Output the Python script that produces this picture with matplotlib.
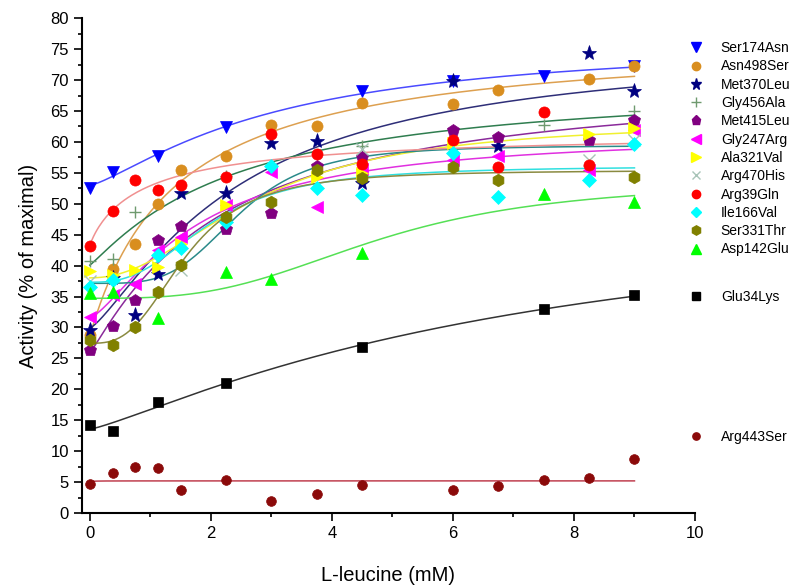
import numpy as np
import matplotlib.pyplot as plt
from matplotlib.lines import Line2D

plt.rcParams['font.family'] = ['Liberation Sans', 'DejaVu Sans']

# L-leucine concentrations (mM) and activity (% of maximal)
ser174asn_x = [0, 0.375, 1.125, 2.25, 4.5, 6, 7.5, 9]
ser174asn_y = [52.6, 55.1, 57.7, 62.4, 68.2, 69.9, 70.6, 72.3]

asn498ser_x = [0, 0.375, 0.75, 1.125, 1.5, 2.25, 3, 3.75, 4.5, 6, 6.75, 8.25, 9]
asn498ser_y = [28.8, 39.4, 43.5, 49.9, 55.5, 57.7, 62.8, 62.5, 66.3, 66.2, 68.4, 70.1, 72.2]

met370leu_x = [0, 0.375, 0.75, 1.125, 1.5, 2.25, 3, 3.75, 4.5, 6, 6.75, 8.25, 9]
met370leu_y = [29.6, 38.0, 32.0, 38.6, 51.7, 51.7, 59.8, 60.1, 53.3, 69.8, 59.3, 74.3, 68.2]

gly456ala_x = [0, 0.375, 0.75, 2.25, 4.5, 7.5, 9]
gly456ala_y = [40.7, 41.0, 48.6, 54.5, 59.3, 62.8, 65.0]

met415leu_x = [0, 0.375, 0.75, 1.125, 1.5, 2.25, 3, 3.75, 4.5, 6, 6.75, 8.25, 9]
met415leu_y = [26.3, 30.2, 34.4, 44.1, 46.4, 46.0, 48.5, 56.1, 57.5, 62.0, 60.8, 60.3, 63.6]

gly247arg_x = [0, 0.375, 0.75, 1.125, 1.5, 2.25, 3, 3.75, 4.5, 6, 6.75, 8.25, 9]
gly247arg_y = [31.7, 35.2, 37.0, 42.6, 44.6, 49.8, 55.1, 49.4, 55.7, 57.1, 57.8, 55.5, 62.0]

ala321val_x = [0, 0.375, 0.75, 1.125, 1.5, 2.25, 3.75, 4.5, 6, 8.25, 9]
ala321val_y = [39.1, 38.5, 39.3, 39.8, 43.5, 49.8, 54.3, 55.0, 59.8, 61.2, 62.3]

arg470his_x = [0, 1.5, 4.5, 8.25, 9]
arg470his_y = [37.5, 39.3, 58.9, 57.1, 60.3]

arg39gln_x = [0, 0.375, 0.75, 1.125, 1.5, 2.25, 3, 3.75, 4.5, 6, 6.75, 7.5, 8.25]
arg39gln_y = [43.1, 48.8, 53.8, 52.2, 53.0, 54.4, 61.2, 58.0, 56.5, 60.3, 56.0, 64.9, 56.2]

ile166val_x = [0, 0.375, 1.125, 1.5, 2.25, 3, 3.75, 4.5, 6, 6.75, 8.25, 9]
ile166val_y = [36.6, 37.6, 41.7, 42.8, 47.0, 56.1, 52.6, 51.4, 58.2, 51.1, 53.8, 59.6]

ser331thr_x = [0, 0.375, 0.75, 1.125, 1.5, 2.25, 3, 3.75, 4.5, 6, 6.75, 9]
ser331thr_y = [28.0, 27.1, 30.1, 35.8, 40.1, 47.9, 50.3, 55.4, 54.2, 56.0, 53.9, 54.4]

asp142glu_x = [0, 0.375, 1.125, 2.25, 3, 4.5, 7.5, 9]
asp142glu_y = [35.5, 35.8, 31.5, 39.0, 37.9, 42.1, 51.6, 50.3]

glu34lys_x = [0, 0.375, 1.125, 2.25, 4.5, 7.5, 9]
glu34lys_y = [14.2, 13.3, 18.0, 21.1, 26.8, 33.0, 35.2]

arg443ser_x = [0, 0.375, 0.75, 1.125, 1.5, 2.25, 3, 3.75, 4.5, 6, 6.75, 7.5, 8.25, 9]
arg443ser_y = [4.7, 6.4, 7.4, 7.3, 3.8, 5.3, 1.9, 3.0, 4.5, 3.8, 4.4, 5.4, 5.7, 8.7]


def hill_fit(x, y, kmax=60.0, ns=None):
    # least squares fit of y = a + b * x^n / (k^n + x^n), grid over k and n
    x = np.asarray(x, float)
    y = np.asarray(y, float)
    if ns is None:
        ns = np.linspace(0.6, 4, 35)
    best = None
    for k in np.logspace(-2, np.log10(kmax), 80):
        for n in ns:
            h = x**n / (k**n + x**n)
            A = np.column_stack([np.ones_like(x), h])
            coef, *_ = np.linalg.lstsq(A, y, rcond=None)
            err = np.sum((A @ coef - y) ** 2)
            if best is None or err < best[0]:
                best = (err, coef, k, n)
    _, (a, b), k, n = best
    xs = np.linspace(0, 9, 300)
    return xs, a + b * xs**n / (k**n + xs**n)


series = [
    ("Ser174Asn", ser174asn_x, ser174asn_y, "v", "#0000ff", "#4a4aff", 9),
    ("Asn498Ser", asn498ser_x, asn498ser_y, "o", "#d98e1f", "#dda050", 8),
    ("Met370Leu", met370leu_x, met370leu_y, "*", "#000080", "#2e2e78", 11),
    ("Gly456Ala", gly456ala_x, gly456ala_y, "+", "#6f9a6f", "#2f7d4f", 9),
    ("Met415Leu", met415leu_x, met415leu_y, "p", "#800080", "#8a2a9a", 9),
    ("Gly247Arg", gly247arg_x, gly247arg_y, "<", "#ff00ff", "#e030e0", 9),
    ("Ala321Val", ala321val_x, ala321val_y, ">", "#ffff00", "#f0f030", 9),
    ("Arg470His", arg470his_x, arg470his_y, "x", "#a8c4b8", "#2a8a8a", 8),
    ("Arg39Gln", arg39gln_x, arg39gln_y, "o", "#ff0000", "#f09090", 8),
    ("Ile166Val", ile166val_x, ile166val_y, "D", "#00ffff", "#30e0e0", 7),
    ("Ser331Thr", ser331thr_x, ser331thr_y, "h", "#808000", "#8a8a40", 9),
    ("Asp142Glu", asp142glu_x, asp142glu_y, "^", "#00ff00", "#55e055", 9),
]
extra = [
    ("Glu34Lys", glu34lys_x, glu34lys_y, "s", "#000000", "#333333", 7),
    ("Arg443Ser", arg443ser_x, arg443ser_y, "o", "#8b0a0a", "#c04050", 7),
]

fig = plt.figure(figsize=(7.92, 5.87), dpi=100)
ax = fig.add_axes([0.1035, 0.126, 0.774, 0.843])

handles = []
for name, x, y, m, mc, lc, ms in series + extra:
    if name == "Arg443Ser":
        # near-constant activity: hyperbolic fit saturating almost at once
        xs, ys = hill_fit(x, y, kmax=0.1, ns=[1.0])
    else:
        xs, ys = hill_fit(x, y)
    ax.plot(xs, ys, color=lc, lw=1.1, zorder=2)
    ax.plot(x, y, linestyle="none", marker=m, color=mc, ms=ms,
            markeredgewidth=1.0 if m in "+x" else 0.5,
            markeredgecolor=mc, zorder=3)
    handles.append(Line2D([], [], linestyle="none", marker=m, color=mc,
                          ms=ms * 0.75, label=name))

ax.set_xlim(-0.13, 10)
ax.set_ylim(0, 80)
ax.set_xticks([0, 2, 4, 6, 8, 10])
ax.set_xticks([1, 3, 5, 7, 9], minor=True)
ax.set_yticks(np.arange(0, 81, 5))
ax.set_yticks(np.arange(2.5, 80, 5), minor=True)
ax.tick_params(which="major", direction="out", length=6, width=1.2, labelsize=12)
ax.tick_params(which="minor", direction="out", length=3, width=1.2)
for s in ["top", "right"]:
    ax.spines[s].set_visible(False)
for s in ["left", "bottom"]:
    ax.spines[s].set_linewidth(1.5)
ax.set_xlabel("L-leucine (mM)", fontsize=14.5, labelpad=18)
ax.set_ylabel("Activity (% of maximal)", fontsize=14.5, labelpad=9)

leg_kw = dict(frameon=False, fontsize=10, handletextpad=1.2, handlelength=1.2,
              borderpad=0, borderaxespad=0, loc="upper left")
leg1 = fig.legend(handles=handles[:12], bbox_to_anchor=(0.868, 0.930),
                  labelspacing=0.31, **leg_kw)
leg2 = fig.legend(handles=[handles[12]], bbox_to_anchor=(0.868, 0.506), **leg_kw)
leg3 = fig.legend(handles=[handles[13]], bbox_to_anchor=(0.868, 0.267), **leg_kw)

fig.savefig("out.png", dpi=100)
